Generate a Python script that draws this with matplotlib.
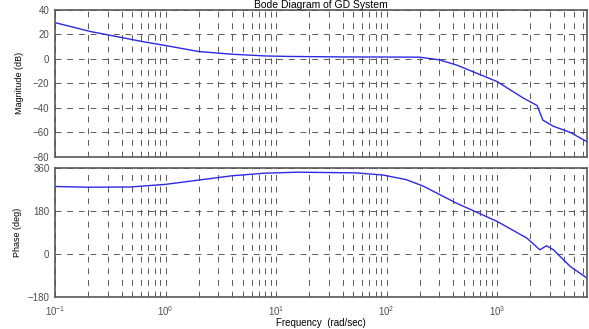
import numpy as np
import matplotlib.pyplot as plt

plt.rcParams['font.family'] = ['Liberation Sans', 'DejaVu Sans']

# valeurs
w_mag = [0.1, 0.21, 0.63, 1.0, 2.0, 4.0, 8.0, 13, 40, 120, 200, 300, 430, 1000, 1730, 2300, 2600, 3240, 4600, 6500]
mag_db = [29.6, 22.3, 14.0, 10.9, 6.0, 3.8, 2.4, 2.0, 1.6, 1.5, 1.4, -0.8, -5.0, -18.5, -32, -38, -50, -55, -60, -67.5]

w_ph = [0.1, 0.2, 0.48, 1.0, 2.0, 4.0, 8.0, 16, 53, 93, 150, 214, 430, 1000, 1860, 2440, 2800, 3240, 4600, 6500]
phase_deg = [283, 280, 281, 292, 310, 328, 339, 343, 340, 331, 312, 285, 213, 137, 67, 18, 35, 18, -52, -100]

x_lim = (0.1, 6500)
mag_ticks = [-80, -60, -40, -20, 0, 20, 40]
phase_ticks = [-180, 0, 180, 360]

fig = plt.figure(figsize=(5.89, 3.29), dpi=100)
ax1 = fig.add_axes([0.0934, 0.523, 0.903, 0.447])
ax2 = fig.add_axes([0.0934, 0.097, 0.903, 0.392])

for ax in (ax1, ax2):
    ax.set_xscale('log')
    ax.set_xlim(*x_lim)
    ax.grid(True, which='both', axis='x', color='0.35', ls=(0, (6, 6)), lw=0.7)
    ax.grid(True, which='major', axis='y', color='0.35', ls=(0, (6, 6)), lw=0.7)
    ax.tick_params(labelsize=7, length=0, colors='0.3')
    ax.tick_params(axis='y', pad=4)
    ax.tick_params(axis='x', pad=5)
    ax.tick_params(which='minor', length=0)
    for s in ax.spines.values():
        s.set_color('0.35')
        s.set_linewidth(1.2)

ax1.plot(w_mag, mag_db, color='#2a2ae6', lw=1)
ax1.set_ylim(-80, 40)
ax1.set_yticks(mag_ticks)
ax1.set_xticklabels([])
ax1.set_ylabel('Magnitude (dB)', fontsize=6.5, labelpad=6)
ax1.set_title('Bode Diagram of GD System', fontsize=7.5, pad=1.5)

ax2.plot(w_ph, phase_deg, color='#2a2ae6', lw=1)
ax2.set_ylim(-180, 360)
ax2.set_yticks(phase_ticks)
ax2.set_ylabel('Phase (deg)', fontsize=6.5, labelpad=4)
ax2.set_xlabel('Frequency  (rad/sec)', fontsize=7, labelpad=0)

plt.savefig('out.png', dpi=100)
